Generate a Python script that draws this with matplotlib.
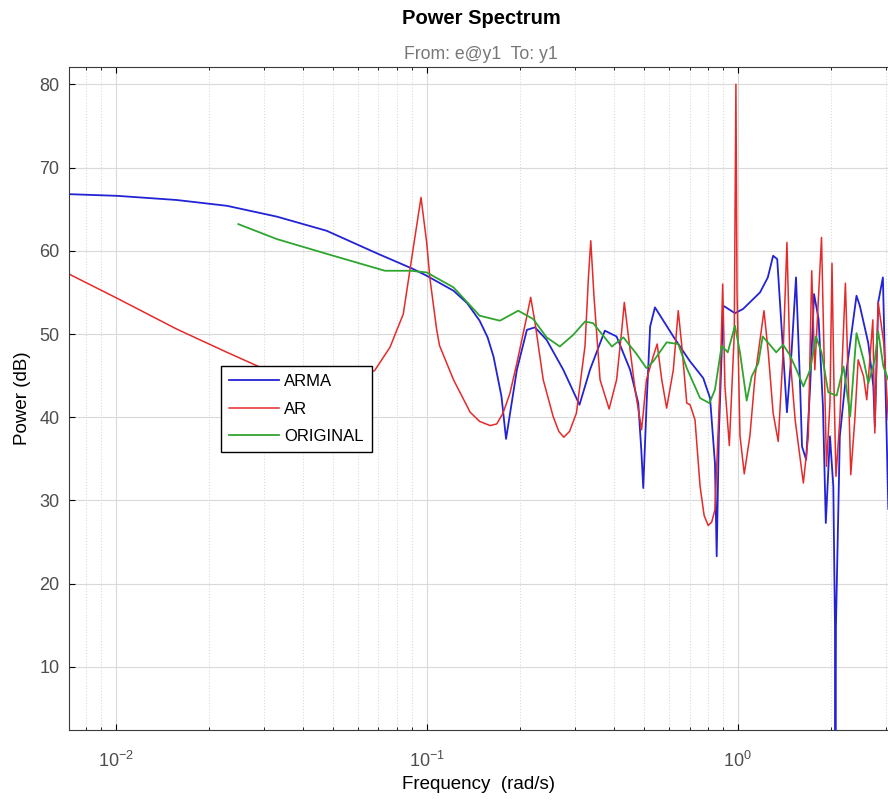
import matplotlib
matplotlib.use("Agg")
import matplotlib.pyplot as plt
import numpy as np
from matplotlib.ticker import LogLocator, NullFormatter

plt.rcParams.update({
    'font.family': ['Liberation Sans', 'DejaVu Sans'],
    'mathtext.fontset': 'custom',
    'mathtext.rm': 'Liberation Sans',
    'mathtext.default': 'regular',
    'axes.linewidth': 0.8,
})

# ARMA model spectrum (blue)
arma_freq = [0.00708, 0.0101, 0.0157, 0.0228, 0.0330, 0.0477, 0.0691, 0.0906, 0.100,
             0.122, 0.135, 0.148, 0.157, 0.164, 0.174, 0.180, 0.195, 0.210, 0.223,
             0.243, 0.275, 0.310, 0.335, 0.374, 0.408, 0.451, 0.479, 0.490, 0.497,
             0.510, 0.523, 0.542, 0.621, 0.700, 0.775, 0.815, 0.845, 0.856, 0.870,
             0.899, 0.98, 1.04, 1.18, 1.25, 1.30, 1.34, 1.40, 1.44, 1.49, 1.54,
             1.585, 1.61, 1.66, 1.71, 1.76, 1.82, 1.88, 1.92, 1.98, 2.03, 2.055,
             2.062, 2.07, 2.13, 2.24, 2.41, 2.47, 2.63, 2.73, 2.76, 2.83, 2.93,
             3.01, 3.05]
arma_db = [66.8, 66.6, 66.1, 65.4, 64.1, 62.4, 59.7, 57.8, 57.0,
           55.2, 53.7, 51.6, 49.6, 47.3, 42.5, 37.4, 45.7, 50.5, 50.8,
           49.3, 45.7, 41.5, 45.7, 50.4, 49.7, 45.7, 41.7, 36.0, 31.5,
           42.0, 50.9, 53.2, 49.7, 46.8, 44.7, 42.3, 34.5, 23.3, 38.0,
           53.4, 52.5, 53.0, 55.0, 56.8, 59.4, 59.0, 47.8, 40.6, 47.8, 56.8,
           44.5, 36.5, 34.9, 43.7, 54.8, 51.8, 41.3, 27.3, 37.7, 31.7, 15.0,
           -5.0, 15.0, 37.7, 45.7, 54.6, 53.4, 48.9, 43.7, 38.9, 53.8, 56.8,
           38.5, 29.0]

# AR model spectrum (red)
ar_freq = [0.00708, 0.0101, 0.0157, 0.0228, 0.0292, 0.037, 0.046, 0.056, 0.068,
           0.0762, 0.0841, 0.0906, 0.0959, 0.100, 0.1025, 0.1077, 0.110, 0.122,
           0.138, 0.148, 0.160, 0.168, 0.176, 0.185, 0.195, 0.209, 0.216, 0.223,
           0.237, 0.255, 0.266, 0.276, 0.288, 0.303, 0.323, 0.331, 0.337, 0.345,
           0.361, 0.386, 0.408, 0.424, 0.432, 0.445, 0.468, 0.491, 0.509, 0.535,
           0.551, 0.570, 0.591, 0.621, 0.644, 0.661, 0.686, 0.703, 0.729, 0.757,
           0.780, 0.804, 0.825, 0.845, 0.877, 0.895, 0.910, 0.940, 0.975, 0.987,
           0.995, 1.017, 1.05, 1.095, 1.137, 1.215, 1.254, 1.30, 1.35, 1.40, 1.44,
           1.47, 1.53, 1.626, 1.687, 1.73, 1.77, 1.86, 1.90, 1.93, 1.98, 2.01,
           2.04, 2.07, 2.13, 2.22, 2.27, 2.31, 2.38, 2.44, 2.54, 2.60, 2.72,
           2.76, 2.83, 2.95, 3.05]
ar_db = [57.2, 54.3, 50.6, 47.8, 46.0, 44.8, 44.3, 44.6, 45.6,
         48.4, 52.4, 60.4, 66.4, 61.0, 56.6, 50.5, 48.6, 44.5,
         40.6, 39.5, 39.0, 39.2, 40.5, 42.8, 46.5, 51.8, 54.4, 51.4,
         44.5, 40.1, 38.3, 37.6, 38.3, 40.5, 48.6, 56.6, 61.2, 54.6,
         44.5, 41.0, 44.5, 50.5, 53.8, 49.8, 43.3, 38.5, 44.5, 47.3,
         48.8, 44.5, 41.1, 45.7, 52.8, 48.6, 41.7, 41.5, 39.7, 31.7,
         28.2, 27.0, 27.4, 28.9, 43.7, 56.0, 43.7, 36.6, 50.0, 80.0,
         55.0, 37.8, 33.2, 37.8, 44.9, 52.8, 47.8, 40.5, 37.1, 47.8, 61.0,
         47.8, 39.7, 32.1, 37.7, 57.6, 45.7, 61.6, 45.7, 34.1, 41.7, 58.5,
         43.7, 32.9, 39.7, 56.1, 43.7, 33.1, 39.7, 46.9, 44.9, 42.1, 51.7,
         38.1, 53.8, 48.9, 39.7]

# measured spectrum (green)
orig_freq = [0.0248, 0.0330, 0.0501, 0.0734, 0.0886, 0.100, 0.122, 0.148, 0.172,
             0.197, 0.220, 0.243, 0.268, 0.296, 0.323, 0.343, 0.394, 0.429, 0.473,
             0.509, 0.535, 0.591, 0.644, 0.686, 0.757, 0.811, 0.845, 0.888, 0.929,
             0.98, 1.017, 1.069, 1.109, 1.165, 1.203, 1.27, 1.33, 1.40, 1.47, 1.55,
             1.626, 1.71, 1.785, 1.86, 1.955, 2.08, 2.19, 2.30, 2.41, 2.54, 2.63,
             2.76, 2.83, 2.94, 3.05]
orig_db = [63.2, 61.4, 59.4, 57.6, 57.6, 57.4, 55.6, 52.2, 51.6,
           52.8, 51.8, 49.6, 48.5, 49.9, 51.5, 51.3, 48.5, 49.6, 47.6,
           45.9, 46.7, 49.0, 48.8, 45.9, 42.3, 41.7, 43.3, 48.6, 47.8,
           51.0, 47.8, 42.0, 44.9, 46.5, 49.7, 48.7, 47.8, 48.7, 47.5, 45.6,
           43.7, 45.7, 49.7, 47.8, 43.0, 42.6, 46.1, 40.1, 50.1, 46.9, 44.1,
           46.9, 50.3, 46.1, 44.5]

fig = plt.figure(figsize=(8.88, 8.05), dpi=100)
ax = fig.add_axes([69 / 888, 75 / 805, 819 / 888, 662.7 / 805])

ax.semilogx(arma_freq, arma_db, color='#2323d6', lw=1.3, label='ARMA')
ax.semilogx(ar_freq, ar_db, color='#e52a2a', lw=1.1, label='AR')
ax.semilogx(orig_freq, orig_db, color='#2fa52f', lw=1.3, label='ORIGINAL')

ax.set_xlim(10 ** -2.150, 10 ** 0.4833)
ax.set_ylim(2.43, 82.04)
ax.set_yticks(np.arange(10, 81, 10))
ax.xaxis.set_major_locator(LogLocator(base=10, numticks=10))
ax.xaxis.set_minor_locator(LogLocator(base=10, subs=np.arange(2, 10), numticks=30))
ax.xaxis.set_minor_formatter(NullFormatter())

# matlab style grid + inward ticks
ax.grid(True, which='major', color='#d9d9d9', lw=0.8)
ax.grid(True, which='minor', axis='x', color='#dadada', lw=0.8, ls=':')
ax.set_axisbelow(True)
ax.tick_params(which='major', direction='in', top=True, right=False, length=4,
               width=0.8, labelsize=13, labelcolor='#4d4d4d', pad=7)
ax.tick_params(axis='x', which='major', pad=15)
ax.tick_params(which='minor', direction='in', top=True, right=False, length=2.5, width=0.6)
for s in ['left', 'bottom', 'top']:
    ax.spines[s].set_color('#3a3a3a')
ax.spines['right'].set_visible(False)

ax.set_xlabel("Frequency  (rad/s)", fontsize=13.5, labelpad=4)
ax.set_ylabel("Power (dB)", fontsize=13.5, labelpad=6)

fig.text(481 / 888, 1 - 24 / 805, "Power Spectrum", ha='center', va='baseline',
         fontsize=14.5, fontweight='bold')
fig.text(481 / 888, 1 - 59 / 805, "From: e@y1  To: y1", ha='center', va='baseline',
         fontsize=12.7, color='#777777')

leg = ax.legend(loc='lower left', bbox_to_anchor=(0.1856, 0.419), borderaxespad=0,
                fontsize=12, handlelength=3.0, handletextpad=0.3, borderpad=0.5,
                labelspacing=0.74, fancybox=False, framealpha=1)
leg.get_frame().set_edgecolor('black')
leg.get_frame().set_linewidth(1.0)

fig.savefig("out.png", dpi=100)
